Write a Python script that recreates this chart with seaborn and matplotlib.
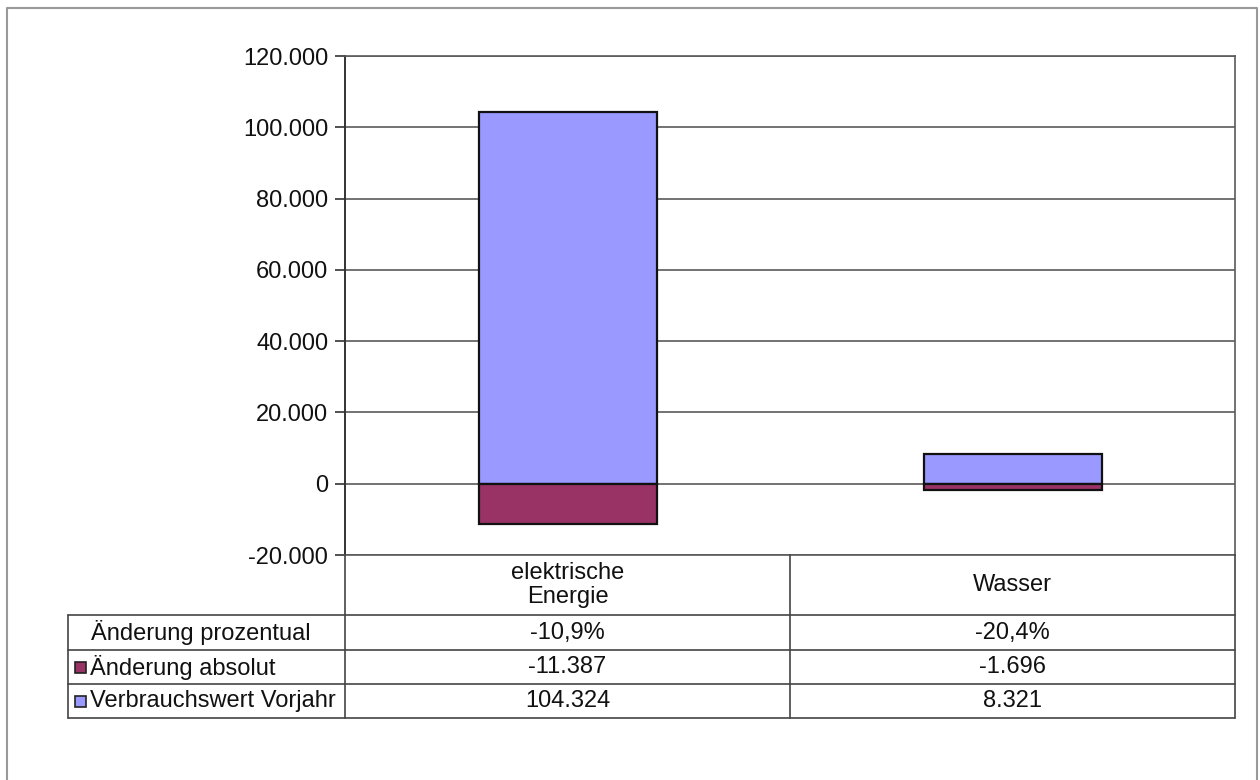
# -*- coding: UTF-8 -*-
import matplotlib
matplotlib.use("Agg")
import matplotlib.pyplot as plt
import matplotlib.transforms as mtransforms
from matplotlib.lines import Line2D
from matplotlib.patches import Rectangle
import pandas as pd
import seaborn as sns

# daten
kategorien = ["elektrische\nEnergie", "Wasser"]
verbrauch_vorjahr = [104324, 8321]
aenderung_absolut = [-11387, -1696]
aenderung_prozent = [-10.9, -20.4]
serien = ["Verbrauchswert Vorjahr", "Änderung absolut"]
farben = ["#9999FF", "#993366"]
y_ticks = [-20000, 0, 20000, 40000, 60000, 80000, 100000, 120000]


def de_zahl(v):
    return f"{v:,.0f}".replace(",", ".")


def de_prozent(v):
    return f"{v:.1f}%".replace(".", ",")


sns.set_theme(style="white")
plt.rcParams['font.family'] = ['Liberation Sans', 'DejaVu Sans']

df = pd.DataFrame({
    "Kategorie": kategorien * 2,
    "Serie": [serien[0]] * 2 + [serien[1]] * 2,
    "Wert": verbrauch_vorjahr + aenderung_absolut,
})

W, H = 1260, 780
fig = plt.figure(figsize=(W / 100, H / 100), dpi=100)
fig.patch.set_facecolor("white")

def fx(px):
    return px / W

def fy(py):
    return 1 - py / H

ax = fig.add_axes([fx(345), fy(555), (1235 - 345) / W, (555 - 56) / H])

sns.barplot(data=df, x="Kategorie", y="Wert", hue="Serie", hue_order=serien,
            palette=farben, saturation=1, dodge=False, width=0.40, errorbar=None,
            edgecolor="#111111", linewidth=1.6, legend=False, ax=ax, zorder=3)

ax.set_xlim(-0.5, 1.5)
ax.set_ylim(-20000, 120000)
ax.set_yticks(y_ticks)
ax.set_yticklabels([de_zahl(v) for v in y_ticks], fontsize=17, color="#111111")
ax.set_xticks([])
ax.set_xlabel("")
ax.set_ylabel("")
ax.yaxis.grid(True, color="#5a5a5a", linewidth=1.2, zorder=0)
ax.set_axisbelow(True)
ax.tick_params(axis="y", left=True, length=7, width=1.2, color="#333333", pad=5)
ax.spines["left"].set_color("#333333")
ax.spines["left"].set_linewidth(1.4)
for s in ["right", "top", "bottom"]:
    ax.spines[s].set_color("#5a5a5a")
    ax.spines[s].set_linewidth(1.2)

# datentabelle unter dem diagramm
tr = mtransforms.blended_transform_factory(ax.transData, fig.transFigure)
lc = "#444444"

def fig_line(x0, y0, x1, y1, **kw):
    fig.add_artist(Line2D([fx(x0), fx(x1)], [fy(y0), fy(y1)],
                          transform=fig.transFigure, color=lc, linewidth=1.2, **kw))

row_y = [555, 615, 650, 684, 718]
for y in row_y[1:]:
    fig_line(68, y, 1235, y)
fig_line(68, 615, 68, 718)
for xd in [-0.5, 0.5, 1.5]:
    fig.add_artist(Line2D([xd, xd], [fy(555), fy(718)], transform=tr,
                          color=lc, linewidth=1.2))

fs = 17
for i, k in enumerate(kategorien):
    fig.text(i, fy((555 + 615) / 2), k, transform=tr, ha="center", va="center",
             fontsize=fs, linespacing=1.15, color="#111111")
    fig.text(i, fy((615 + 650) / 2), de_prozent(aenderung_prozent[i]), transform=tr,
             ha="center", va="center", fontsize=fs, color="#111111")
    fig.text(i, fy((650 + 684) / 2), de_zahl(aenderung_absolut[i]), transform=tr,
             ha="center", va="center", fontsize=fs, color="#111111")
    fig.text(i, fy((684 + 718) / 2), de_zahl(verbrauch_vorjahr[i]), transform=tr,
             ha="center", va="center", fontsize=fs, color="#111111")

fig.text(fx(201), fy((615 + 650) / 2), "Änderung prozentual", ha="center",
         va="center", fontsize=fs, color="#111111")
for label, farbe, (y0, y1) in [(serien[1], farben[1], (650, 684)),
                               (serien[0], farben[0], (684, 718))]:
    yc = (y0 + y1) / 2
    fig.add_artist(Rectangle((fx(75), fy(yc + 6)), 11 / W, 11 / H,
                             transform=fig.transFigure, facecolor=farbe,
                             edgecolor="#222222", linewidth=1.2))
    fig.text(fx(90), fy(yc), label, ha="left", va="center", fontsize=fs,
             color="#111111")

# rahmen um das ganze diagramm
fig.add_artist(Line2D([fx(7), fx(7), fx(1257), fx(1257)],
                      [0, fy(8), fy(8), 0], transform=fig.transFigure,
                      color="#999999", linewidth=1.5))

plt.savefig("out.png", dpi=100)
